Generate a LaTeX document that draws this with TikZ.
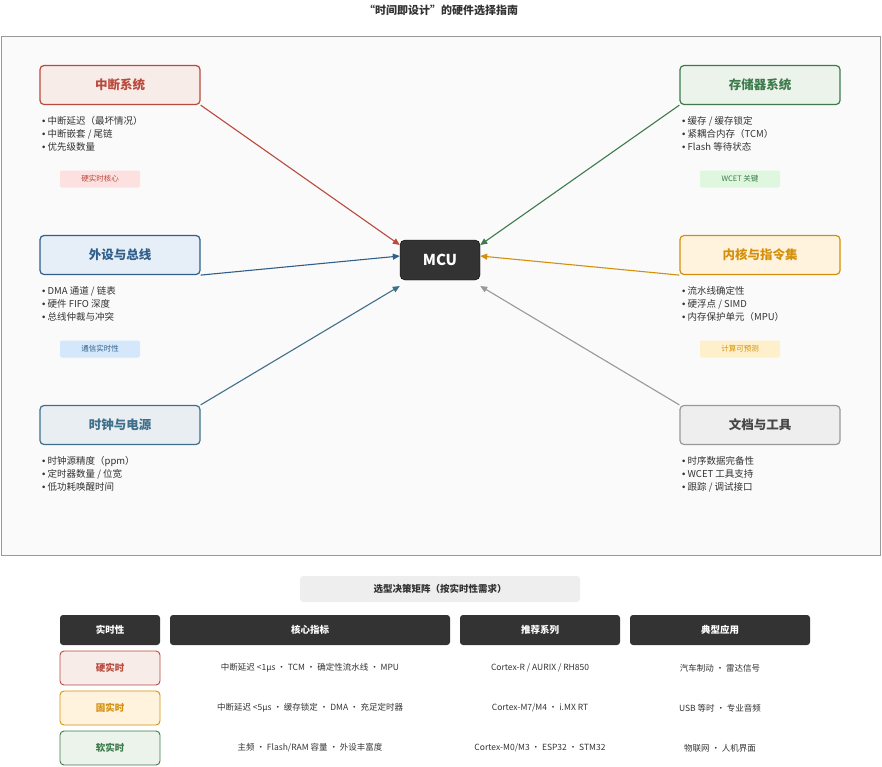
\documentclass[tikz,border=0pt]{standalone}
\usepackage{fontspec}
\setmainfont{Noto Sans CJK SC}
\newfontfamily\bulfont{Liberation Sans}
\newcommand*{\itm}{{\bulfont •} }
\usetikzlibrary{positioning,arrows.meta}
\definecolor{cred}{HTML}{B94A3E}\definecolor{fred}{HTML}{F8ECE9}\definecolor{tred}{HTML}{FDE0E0}
\definecolor{cgrn}{HTML}{3D7A4C}\definecolor{fgrn}{HTML}{EBF3EA}\definecolor{tgrn}{HTML}{DFF7DF}
\definecolor{cblu}{HTML}{2F5F8A}\definecolor{fblu}{HTML}{E6EEF7}\definecolor{tblu}{HTML}{D5E8FB}
\definecolor{ccyn}{HTML}{3F6F8A}\definecolor{fcyn}{HTML}{E8EEF2}
\definecolor{cora}{HTML}{D4900A}\definecolor{fora}{HTML}{FFF3DE}\definecolor{tora}{HTML}{FFF0CC}
\definecolor{cgry}{HTML}{999999}\definecolor{fgry}{HTML}{EEEEEE}
\definecolor{dark}{HTML}{333333}
\tikzset{
  cat/.style={draw=c#1,fill=f#1,text=c#1,line width=1.2pt,rounded corners=4pt,minimum width=160pt,minimum height=39pt,font=\fontsize{12.5}{14}\selectfont\bfseries,inner sep=0pt},
  items/.style={anchor=north west,align=left,inner sep=0pt,font=\fontsize{9.5}{13}\selectfont,text=dark},
  tag/.style={fill=#1,rounded corners=2pt,minimum width=80pt,minimum height=17pt,font=\fontsize{7.5}{9}\selectfont,inner sep=0pt},
  link/.style={draw=#1,line width=1.1pt,-{Triangle[length=7pt,width=6pt]}},
  head/.style={fill=dark,text=white,rounded corners=3pt,minimum height=30pt,font=\fontsize{9.5}{11}\selectfont\bfseries,inner sep=0pt},
  level/.style={draw=c#1,fill=f#1,text=c#1,line width=0.9pt,rounded corners=4pt,minimum width=100pt,minimum height=34pt,font=\fontsize{9.5}{11}\selectfont\bfseries,inner sep=0pt},
  cell/.style={font=\fontsize{8.5}{10}\selectfont,text=dark}
}
\begin{document}
\begin{tikzpicture}[x=1pt,y=-1pt]
\useasboundingbox (0,0) rectangle (882,766);
\node[font=\fontsize{11}{13}\selectfont\bfseries,text=dark] (title) at (441,10) {“时间即设计”的硬件选择指南};
\draw[draw=gray!80,fill=gray!4] (1,36) rectangle (880,555);
% Center
\node[fill=dark,text=white,draw=black,rounded corners=5pt,minimum width=80pt,minimum height=40pt,font=\fontsize{15}{17}\selectfont\bfseries] (mcu) at (440,260) {MCU};
% Categories, left
\node[cat=red] (irq) at (120,85) {中断系统};
\node[items] (irqi) at (42,116) {\itm 中断延迟（最坏情况）\\\itm 中断嵌套 / 尾链\\\itm 优先级数量};
\node[tag=tred,text=cred] (irqt) at (100,179) {硬实时核心};
\node[cat=blu] (bus) at (120,255) {外设与总线};
\node[items] (busi) at (42,286) {\itm DMA 通道 / 链表\\\itm 硬件 FIFO 深度\\\itm 总线仲裁与冲突};
\node[tag=tblu,text=cblu] (bust) at (100,349) {通信实时性};
\node[cat=cyn] (clk) at (120,425) {时钟与电源};
\node[items] (clki) at (42,456) {\itm 时钟源精度（ppm）\\\itm 定时器数量 / 位宽\\\itm 低功耗唤醒时间};
% Categories, right
\node[cat=grn] (mem) at (760,85) {存储器系统};
\node[items] (memi) at (682,116) {\itm 缓存 / 缓存锁定\\\itm 紧耦合内存（TCM）\\\itm Flash 等待状态};
\node[tag=tgrn,text=cgrn] (memt) at (740,179) {WCET 关键};
\node[cat=ora] (core) at (760,255) {内核与指令集};
\node[items] (corei) at (682,286) {\itm 流水线确定性\\\itm 硬浮点 / SIMD\\\itm 内存保护单元（MPU）};
\node[tag=tora,text=cora] (coret) at (740,349) {计算可预测};
\node[cat=gry,text=dark!90] (doc) at (760,425) {文档与工具};
\node[items] (doci) at (682,456) {\itm 时序数据完备性\\\itm WCET 工具支持\\\itm 跟踪 / 调试接口};
% Arrows
\draw[link=cred] (irq.south east) -- ([yshift=15pt]mcu.west);
\draw[link=cblu] (bus.south east) -- ([yshift=4pt]mcu.west);
\draw[link=ccyn] (clk.north east) -- ([yshift=-26pt]mcu.west);
\draw[link=cgrn] (mem.south west) -- ([yshift=15pt]mcu.east);
\draw[link=cora] (core.south west) -- ([yshift=4pt]mcu.east);
\draw[link=cgry] (doc.north west) -- ([yshift=-26pt]mcu.east);
% Decision matrix
\node[fill=fgry,rounded corners=3pt,minimum width=280pt,minimum height=26pt,font=\fontsize{9.5}{11}\selectfont\bfseries,text=dark] (mtitle) at (440,589) {选型决策矩阵（按实时性需求）};
\node[head,minimum width=100pt] (h1) at (110,630) {实时性};
\node[head,minimum width=280pt] (h2) at (310,630) {核心指标};
\node[head,minimum width=160pt] (h3) at (540,630) {推荐系列};
\node[head,minimum width=180pt] (h4) at (720,630) {典型应用};
\foreach \lv/\y/\cl/\a/\b/\c in {硬实时/668/red/{中断延迟 <1μs · TCM · 确定性流水线 · MPU}/{Cortex-R / AURIX / RH850}/{汽车制动 · 雷达信号},
  固实时/708/ora/{中断延迟 <5μs · 缓存锁定 · DMA · 充足定时器}/{Cortex-M7/M4 · i.MX RT}/{USB 等时 · 专业音频},
  软实时/748/grn/{主频 · Flash/RAM 容量 · 外设丰富度}/{Cortex-M0/M3 · ESP32 · STM32}/{物联网 · 人机界面}}{
  \node[level=\cl] (lv\y) at (110,\y) {\lv};
  \node[cell] (ka\y) at (310,\y) {\a};
  \node[cell] (kb\y) at (540,\y) {\b};
  \node[cell] (kc\y) at (720,\y) {\c};
}
\end{tikzpicture}
\end{document}
